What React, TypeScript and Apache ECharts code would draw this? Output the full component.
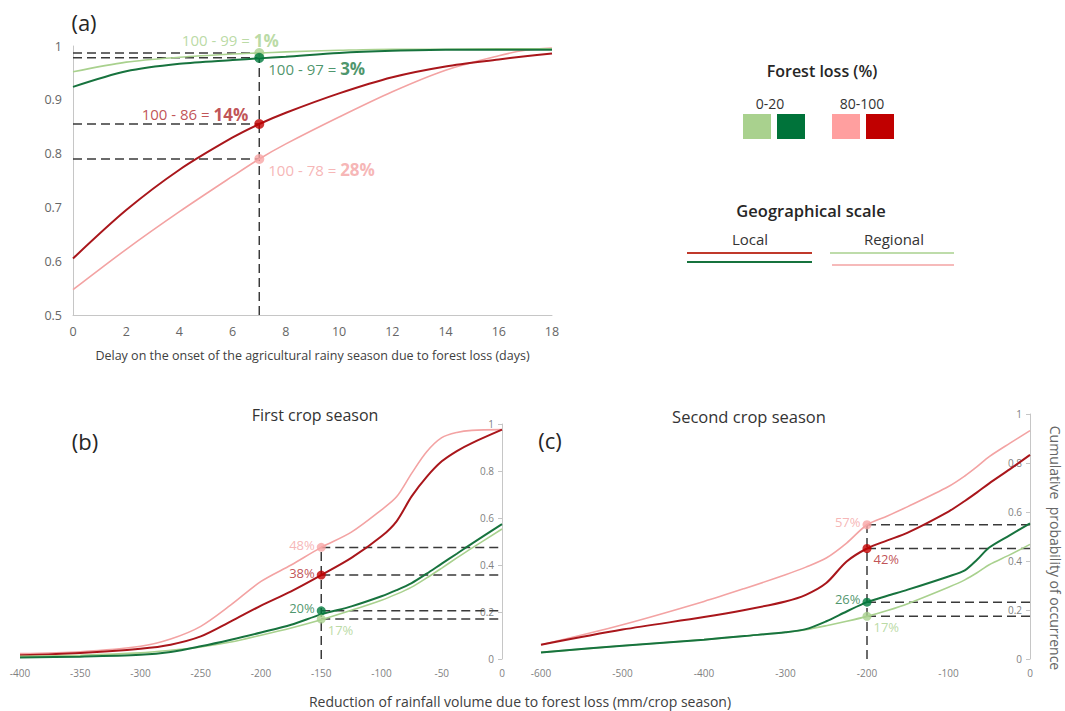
import React, { useEffect, useRef } from "react";
import * as echarts from "echarts";

const FONT = "'Open Sans', 'Noto Sans', sans-serif";

const LINE = { lightGreen: "#a9d18e", darkGreen: "#17733e", pink: "#f3a3a3", darkRed: "#a9161b" };
const DOT = { lightGreen: "#a9d18e", darkGreen: "#007a3d", pink: "#f7a5a5", darkRed: "#c00000" };
const TXT = { lightGreen: "#a9d18e", darkGreen: "#1d7a46", pink: "#f4a4a4", darkRed: "#b0262a" };
const SQUARE = { lightGreen: "#a9d18e", darkGreen: "#00733a", pink: "#ff9f9f", darkRed: "#c00000" };

// ---------- Panel (a): delay on onset of rainy season ----------
const aDays = [0, 2, 4, 6, 7, 8, 10, 12, 14, 16, 17, 18];
const aLocalLow = [0.924, 0.953, 0.967, 0.974, 0.977, 0.98, 0.987, 0.991, 0.993, 0.993, 0.993, 0.993];
const aRegionalLow = [0.952, 0.97, 0.979, 0.985, 0.987, 0.989, 0.992, 0.994, 0.994, 0.995, 0.995, 0.995];
const aLocalHigh = [0.605, 0.695, 0.77, 0.83, 0.855, 0.876, 0.912, 0.942, 0.962, 0.975, 0.981, 0.986];
const aRegionalHigh = [0.547, 0.622, 0.692, 0.758, 0.79, 0.818, 0.868, 0.915, 0.955, 0.982, 0.992, 0.996];
const aMarkDay = 7;
// order: regional 0-20, local 0-20, local 80-100, regional 80-100
const aMarkValues = [0.987, 0.978, 0.855, 0.79];
const aMarkTexts = [
  ["100 - 99 = ", "1%"],
  ["100 - 97 = ", "3%"],
  ["100 - 86 = ", "14%"],
  ["100 - 78 = ", "28%"],
];

// ---------- Panel (b): first crop season ----------
const bRain = [-400, -350, -300, -275, -250, -225, -200, -175, -150, -125, -100, -87.5, -75, -62.5, -50, -37.5, -25, 0];
const bRegionalHigh = [0.023, 0.031, 0.054, 0.085, 0.139, 0.23, 0.33, 0.4, 0.475, 0.54, 0.635, 0.69, 0.79, 0.882, 0.942, 0.964, 0.973, 0.976];
const bLocalHigh = [0.016, 0.026, 0.044, 0.061, 0.096, 0.16, 0.227, 0.288, 0.357, 0.43, 0.522, 0.586, 0.692, 0.775, 0.841, 0.885, 0.919, 0.976];
const bLocalLow = [0.006, 0.01, 0.018, 0.03, 0.054, 0.082, 0.113, 0.146, 0.19, 0.224, 0.267, 0.293, 0.323, 0.363, 0.406, 0.448, 0.491, 0.574];
const bRegionalLow = [0.011, 0.016, 0.026, 0.037, 0.051, 0.072, 0.101, 0.132, 0.167, 0.207, 0.25, 0.276, 0.306, 0.345, 0.387, 0.43, 0.472, 0.553];
const bMarkRain = -150;
// order: regional 80-100, local 80-100, local 0-20, regional 0-20
const bMarkValues = [0.475, 0.357, 0.205, 0.17];
const bMarkTexts = ["48%", "38%", "20%", "17%"];

// ---------- Panel (c): second crop season ----------
const cRain = [-600, -500, -400, -350, -300, -275, -250, -225, -200, -175, -150, -100, -80, -65, -50, -25, 0];
const cRegionalHigh = [0.058, 0.14, 0.235, 0.288, 0.344, 0.375, 0.412, 0.473, 0.548, 0.584, 0.622, 0.704, 0.747, 0.785, 0.826, 0.88, 0.932];
const cLocalHigh = [0.058, 0.12, 0.171, 0.2, 0.235, 0.262, 0.31, 0.398, 0.451, 0.484, 0.516, 0.602, 0.645, 0.68, 0.717, 0.774, 0.833];
const cLocalLow = [0.027, 0.054, 0.079, 0.094, 0.109, 0.122, 0.154, 0.194, 0.232, 0.258, 0.283, 0.337, 0.362, 0.405, 0.455, 0.505, 0.554];
const cRegionalLow = [0.027, 0.054, 0.079, 0.094, 0.109, 0.12, 0.136, 0.154, 0.174, 0.198, 0.226, 0.293, 0.323, 0.352, 0.385, 0.425, 0.468];
const cMarkRain = -200;
const cMarkValues = [0.548, 0.451, 0.232, 0.174];
const cMarkTexts = ["57%", "42%", "26%", "17%"];

const pairs = (xs: number[], ys: number[]) => xs.map((x, i) => [x, ys[i]]);

const curve = (idx: number, xs: number[], ys: number[], color: string, width: number) => ({
  type: "line",
  xAxisIndex: idx,
  yAxisIndex: idx,
  data: pairs(xs, ys),
  smooth: 0.3,
  symbol: "none",
  silent: true,
  lineStyle: { color, width },
  z: 3,
});

const dashed = (idx: number, data: number[][]) => ({
  type: "line",
  xAxisIndex: idx,
  yAxisIndex: idx,
  data,
  symbol: "none",
  silent: true,
  lineStyle: { color: "#3a3a3a", width: 1.5, type: [9, 5] },
  z: 2,
});

export default function App() {
  const ref = useRef<HTMLDivElement>(null);

  useEffect(() => {
    if (!ref.current) return;
    const chart = echarts.init(ref.current, null, { renderer: "svg" });

    const grayAxis = { show: true, lineStyle: { color: "#c6c6c6", width: 1 } };

    const series: any[] = [];

    // Panel (a)
    aMarkValues.forEach((v) => series.push(dashed(0, [[0, v], [aMarkDay, v]])));
    series.push(dashed(0, [[aMarkDay, 0.5], [aMarkDay, aMarkValues[0]]]));
    series.push(curve(0, aDays, aRegionalHigh, LINE.pink, 1.6));
    series.push(curve(0, aDays, aLocalHigh, LINE.darkRed, 2));
    series.push(curve(0, aDays, aRegionalLow, LINE.lightGreen, 1.6));
    series.push(curve(0, aDays, aLocalLow, LINE.darkGreen, 2));

    const aColors = ["lightGreen", "darkGreen", "darkRed", "pink"] as const;
    const aLabelPos = [
      { position: "top", distance: 2, offset: [-29, 3] },
      { position: "right", distance: 4, offset: [0, 11] },
      { position: "left", distance: 6, offset: [0, -10] },
      { position: "right", distance: 4, offset: [0, 11] },
    ];
    series.push({
      type: "scatter",
      xAxisIndex: 0,
      yAxisIndex: 0,
      symbolSize: 10,
      silent: true,
      z: 6,
      data: aMarkValues.map((v, i) => ({
        value: [aMarkDay, v],
        itemStyle: { color: DOT[aColors[i]] },
        label: {
          show: true,
          ...aLabelPos[i],
          formatter: `{n|${aMarkTexts[i][0]}}{b|${aMarkTexts[i][1]}}`,
          rich: {
            n: { fontSize: 15, fontFamily: FONT, color: TXT[aColors[i]] },
            b: { fontSize: 17, fontWeight: "bold", fontFamily: FONT, color: TXT[aColors[i]] },
          },
        },
      })),
    });

    // Panel (b)
    bMarkValues.forEach((v) => series.push(dashed(1, [[bMarkRain, v], [0, v]])));
    series.push(dashed(1, [[bMarkRain, 0], [bMarkRain, bMarkValues[0]]]));
    series.push(curve(1, bRain, bRegionalHigh, LINE.pink, 1.6));
    series.push(curve(1, bRain, bLocalHigh, LINE.darkRed, 2));
    series.push(curve(1, bRain, bRegionalLow, LINE.lightGreen, 1.6));
    series.push(curve(1, bRain, bLocalLow, LINE.darkGreen, 2));

    const bcColors = ["pink", "darkRed", "darkGreen", "lightGreen"] as const;
    const bLabelPos = [
      { position: "left", distance: 2, offset: [0, -2] },
      { position: "left", distance: 2, offset: [0, -2] },
      { position: "left", distance: 2, offset: [0, -3] },
      { position: "right", distance: 2, offset: [0, 11] },
    ];
    series.push({
      type: "scatter",
      xAxisIndex: 1,
      yAxisIndex: 1,
      symbolSize: 9,
      silent: true,
      z: 6,
      data: bMarkValues.map((v, i) => ({
        value: [bMarkRain, v],
        itemStyle: { color: DOT[bcColors[i]] },
        label: {
          show: true,
          ...bLabelPos[i],
          formatter: bMarkTexts[i],
          fontSize: 13,
          fontFamily: FONT,
          color: TXT[bcColors[i]],
        },
      })),
    });

    // Panel (c)
    cMarkValues.forEach((v) => series.push(dashed(2, [[cMarkRain, v], [0, v]])));
    series.push(dashed(2, [[cMarkRain, 0], [cMarkRain, cMarkValues[0]]]));
    series.push(curve(2, cRain, cRegionalHigh, LINE.pink, 1.6));
    series.push(curve(2, cRain, cLocalHigh, LINE.darkRed, 2));
    series.push(curve(2, cRain, cRegionalLow, LINE.lightGreen, 1.6));
    series.push(curve(2, cRain, cLocalLow, LINE.darkGreen, 2));

    const cLabelPos = [
      { position: "left", distance: 2, offset: [0, -3] },
      { position: "right", distance: 2, offset: [0, 10] },
      { position: "left", distance: 2, offset: [0, -3] },
      { position: "right", distance: 2, offset: [0, 11] },
    ];
    series.push({
      type: "scatter",
      xAxisIndex: 2,
      yAxisIndex: 2,
      symbolSize: 9,
      silent: true,
      z: 6,
      data: cMarkValues.map((v, i) => ({
        value: [cMarkRain, v],
        itemStyle: { color: DOT[bcColors[i]] },
        label: {
          show: true,
          ...cLabelPos[i],
          formatter: cMarkTexts[i],
          fontSize: 13,
          fontFamily: FONT,
          color: TXT[bcColors[i]],
        },
      })),
    });

    const smallLabel = { color: "#7f7f7f", fontSize: 10, fontFamily: FONT };
    const rightY = (gridIndex: number) => ({
      type: "value",
      gridIndex,
      position: "right",
      min: 0,
      max: 1,
      interval: 0.2,
      axisLine: grayAxis,
      axisTick: { show: true, inside: true, length: 4, lineStyle: { color: "#c6c6c6" } },
      axisLabel: { ...smallLabel, inside: true, margin: 8 },
      splitLine: { show: false },
    });
    const bottomX = (gridIndex: number, min: number, interval: number) => ({
      type: "value",
      gridIndex,
      min,
      max: 0,
      interval,
      axisLine: { show: false },
      axisTick: { show: false },
      axisLabel: { ...smallLabel, margin: 9 },
      splitLine: { show: false },
    });

    const text = (x: number, y: number, t: string, font: string, fill: string, align = "center") => ({
      type: "text",
      x,
      y,
      silent: true,
      style: { text: t, font, fill, align, verticalAlign: "middle" },
    });
    const sq = (x: number, color: string) => ({
      type: "rect",
      silent: true,
      shape: { x, y: 114, width: 28, height: 25 },
      style: { fill: color },
    });
    const legLine = (x1: number, x2: number, y: number, color: string, w: number) => ({
      type: "line",
      silent: true,
      shape: { x1, y1: y, x2, y2: y },
      style: { stroke: color, lineWidth: w },
    });

    chart.setOption({
      animation: false,
      backgroundColor: "#ffffff",
      textStyle: { fontFamily: FONT },
      grid: [
        { left: 73, top: 46, width: 479, height: 269 },
        { left: 20, top: 424, width: 482, height: 235 },
        { left: 541, top: 414, width: 489, height: 245 },
      ],
      xAxis: [
        {
          type: "value",
          gridIndex: 0,
          min: 0,
          max: 18,
          interval: 2,
          axisLine: grayAxis,
          axisTick: { show: false },
          splitLine: { show: false },
          axisLabel: { color: "#666666", fontSize: 12.5, fontFamily: FONT, margin: 10 },
          name: "Delay on the onset of the agricultural rainy season due to forest loss (days)",
          nameLocation: "middle",
          nameGap: 34,
          nameTextStyle: { color: "#404040", fontSize: 12.5, fontFamily: FONT },
        },
        bottomX(1, -400, 50),
        bottomX(2, -600, 100),
      ],
      yAxis: [
        {
          type: "value",
          gridIndex: 0,
          min: 0.5,
          max: 1,
          interval: 0.1,
          axisLine: grayAxis,
          axisTick: { show: false },
          splitLine: { show: false },
          axisLabel: { color: "#666666", fontSize: 12.5, fontFamily: FONT, margin: 11 },
        },
        rightY(1),
        rightY(2),
      ],
      series,
      graphic: [
        text(84, 22, "(a)", `22px ${FONT}`, "#262626"),
        text(85, 441, "(b)", `22px ${FONT}`, "#262626"),
        text(550, 440, "(c)", `22px ${FONT}`, "#262626"),
        text(315, 415, "First crop season", `16px ${FONT}`, "#333333"),
        text(749, 416, "Second crop season", `16.5px ${FONT}`, "#333333"),
        text(520, 701, "Reduction of rainfall volume due to forest loss (mm/crop season)", `14px ${FONT}`, "#404040"),
        {
          type: "text",
          x: 1055,
          y: 548,
          rotation: -Math.PI / 2,
          silent: true,
          style: {
            text: "Cumulative  probability of occurrence",
            font: `14px ${FONT}`,
            fill: "#666666",
            align: "center",
            verticalAlign: "middle",
          },
        },
        text(822, 71, "Forest loss (%)", `600 16px ${FONT}`, "#262626"),
        text(770, 103, "0-20", `14px ${FONT}`, "#333333"),
        text(862, 103, "80-100", `14px ${FONT}`, "#333333"),
        sq(743, SQUARE.lightGreen),
        sq(777, SQUARE.darkGreen),
        sq(832, SQUARE.pink),
        sq(866, SQUARE.darkRed),
        text(811, 210, "Geographical scale", `600 16.5px ${FONT}`, "#262626"),
        text(750, 239, "Local", `15px ${FONT}`, "#333333"),
        text(894, 239, "Regional", `15px ${FONT}`, "#333333"),
        legLine(687, 812, 253, "#c0392b", 2),
        legLine(687, 812, 262, "#17733e", 2),
        legLine(830, 954, 253, "#a9d18e", 1.5),
        legLine(832, 954, 265, "#f3a3a3", 1.5),
      ],
    });

    return () => chart.dispose();
  }, []);

  return (
    <div
      ref={ref}
      style={{ position: "absolute", left: 0, top: 0, width: 1065, height: 711, background: "#fff" }}
    />
  );
}
